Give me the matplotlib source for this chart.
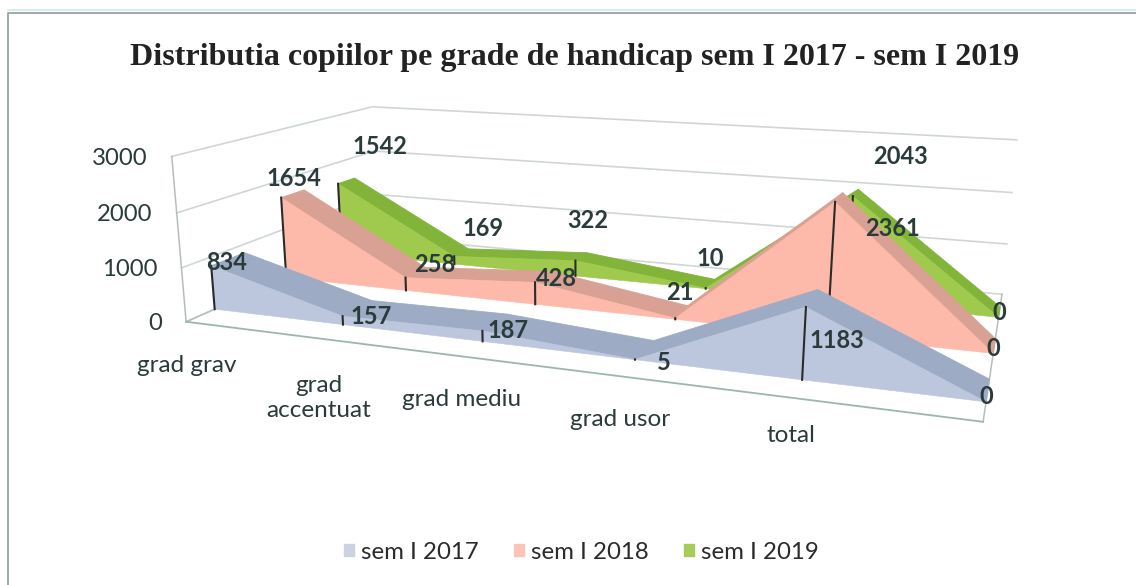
import numpy as np
import matplotlib
matplotlib.use('Agg')
import matplotlib.pyplot as plt
from matplotlib.patches import Patch, Polygon

# values
categories = ['grad grav', 'grad\naccentuat', 'grad mediu', 'grad usor', 'total']
series_names = ['sem I 2017', 'sem I 2018', 'sem I 2019']
sem_2017 = [834, 157, 187, 5, 1183, 0]
sem_2018 = [1654, 258, 428, 21, 2361, 0]
sem_2019 = [1542, 169, 322, 10, 2043, 0]
y_ticks = [0, 1000, 2000, 3000]

W, H = 1136, 585
ZMAX = 3000.0


# fit a perspective camera on the box corners seen in the scan
def fit_camera():
    pts3 = [(0, 0, 0), (1, 0, 0), (0, 1, 0), (1, 1, 0),
            (0, 0, 1), (0, 1, 1), (1, 1, 1)]
    pts2 = [(186, 322), (983, 422), (378, 237), (1002, 294),
            (172, 156), (372, 107), (1017, 140)]
    A = []
    for (a, b, c), (x, y) in zip(pts3, pts2):
        A.append([a, b, c, 1, 0, 0, 0, 0, -x*a, -x*b, -x*c, -x])
        A.append([0, 0, 0, 0, a, b, c, 1, -y*a, -y*b, -y*c, -y])
    return np.linalg.svd(np.array(A, dtype=float))[2][-1].reshape(3, 4)


CAM = fit_camera()


def proj(u, v, z):
    p = CAM @ np.array([u, v, z / ZMAX, 1.0])
    return p[0] / p[2], p[1] / p[2]


fig = plt.figure(figsize=(W / 100, H / 100), dpi=100)
ax = fig.add_axes([0, 0, 1, 1])
ax.set_xlim(0, W)
ax.set_ylim(H, 0)
ax.axis('off')

# chart frame
ax.plot([8, 8, W], [H, 13, 13], color='#9aa3a3', lw=1.3)
ax.plot([8, W], [10, 10], color='#d8ecf2', lw=1.5)

ax.text(575, 57, 'Distributia copiilor pe grade de handicap sem I 2017 - sem I 2019',
        family='Liberation Serif', weight='bold', fontsize=23, color='#222222',
        ha='center', va='center')

# walls
grid = '#cfd6d6'
for t in y_ticks:
    pts = [proj(0, 0, t), proj(0, 1, t), proj(1, 1, t)]
    ax.plot(*zip(*pts), color=grid, lw=1.2, zorder=1)
    x, y = proj(0, 0, t)
    ax.text(x - 24, y + 2, str(t), family='Lato', fontsize=17.2, color='#2b3a3a',
            ha='right', va='center')
for a, b in [((0, 0, 0), (0, 0, 3000)), ((1, 0, 0), (1, 1, 0)), ((0, 0, 0), (0, 1, 0))]:
    ax.plot(*zip(proj(*a), proj(*b)), color='#b5bdbd', lw=1.1, zorder=1)
ax.plot(*zip(proj(0, 0, 0), proj(1, 0, 0)), color='#9db5ad', lw=1.3, zorder=1)

# areas, back series first
all_series = [sem_2017, sem_2018, sem_2019]
fronts = ['#bcc6dd', '#fdb9a9', '#a0ca4e']
tops = ['#9dacc4', '#d9a193', '#82b43a']
depth = [(0.12, 0.27), (0.46, 0.58), (0.77, 0.87)]
u = np.linspace(0, 1, 6)
for s in [2, 1, 0]:
    vals = all_series[s]
    v0, v1 = depth[s]
    for i in range(5):
        quad = [proj(u[i], v0, vals[i]), proj(u[i+1], v0, vals[i+1]),
                proj(u[i+1], v1, vals[i+1]), proj(u[i], v1, vals[i])]
        ax.add_patch(Polygon(quad, facecolor=tops[s], edgecolor=tops[s], lw=0.6, zorder=3+s*-1))
    face = [proj(u[i], v0, vals[i]) for i in range(6)] + [proj(1, v0, 0), proj(0, v0, 0)]
    ax.add_patch(Polygon(face, facecolor=fronts[s], edgecolor=fronts[s], lw=0.4, zorder=3+s*-1))
    for i in range(6):
        if vals[i] > 0:
            ax.plot(*zip(proj(u[i], v0, 0), proj(u[i], v0, vals[i])), color='#2a2a2a', lw=1.5, zorder=3+s*-1)

# data labels
label_xy = [[(227, 262), (371, 316), (508, 331), (664, 363), (837, 341), (986, 396)],
            [(294, 179), (435, 265), (556, 279), (680, 293), (892, 228), (993, 349)],
            [(380, 146), (483, 229), (588, 220), (710, 258), (900, 156), (999, 312)]]
for vals, xys in zip(all_series, label_xy):
    for val, (x, y) in zip(vals, xys):
        ax.text(x, y, str(val), family='Lato', weight='bold', fontsize=17, color='#2b3b3b',
                ha='center', va='center', zorder=10)

cat_xy = [(187, 365), (319, 398), (462, 400), (620, 419), (791, 435)]
for name, (x, y) in zip(categories, cat_xy):
    ax.text(x, y, name, family='Lato', fontsize=17.5, color='#2b3a3a', ha='center', va='center',
            linespacing=1.2)

handles = [Patch(color=c) for c in ['#ccd2e2', '#fcc4b4', '#a6cc5a']]
ax.legend(handles, series_names, ncol=3, frameon=False, loc='center', bbox_to_anchor=(0.5116, 0.056),
          prop={'family': 'Lato', 'size': 17.3}, labelcolor='#2b2b2b', handlelength=0.42, handleheight=0.42,
          handletextpad=0.3, columnspacing=1.45)

fig.savefig('out.png', dpi=100)
